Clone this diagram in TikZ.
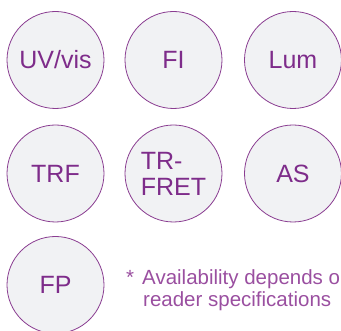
\documentclass[tikz,border=0pt]{standalone}
\usepackage{fontspec}
\setmainfont{Liberation Sans}
\definecolor{ringc}{HTML}{8A3D91}
\definecolor{fillc}{HTML}{F1F2F4}
\definecolor{textc}{HTML}{7E2C8A}
\definecolor{notec}{HTML}{9A4FA0}
\begin{document}
\begin{tikzpicture}[x=1pt,y=1pt,
  bubble/.style={circle,draw=ringc,fill=fillc,line width=0.8pt,minimum size=97pt,inner sep=0pt,
    text=textc,font=\fontsize{25}{26}\selectfont},
  note/.style={anchor=base west,text=notec,font=\fontsize{20.5}{22}\selectfont,inner sep=0pt}]
\useasboundingbox (0,0) rectangle (341,-331);
\node[bubble] (uv) at (55.5,-60) {UV/vis};
\node[bubble] (fi) at (173.5,-60) {FI};
\node[bubble] (lum) at (293,-60) {Lum};
\node[bubble] (trf) at (55.5,-173.5) {TRF};
\node[bubble,align=left] (tr) at (173.5,-173.5) {TR-\\FRET};
\node[bubble] (as) at (293,-173.5) {AS};
\node[bubble] (fp) at (55.5,-285) {FP};
\node[note] (star) at (126,-285) {*};
\node[note] (l1) at (142,-285) {Availability depends on};
\node[note] (l2) at (143,-307) {reader specifications};
\end{tikzpicture}
\end{document}
